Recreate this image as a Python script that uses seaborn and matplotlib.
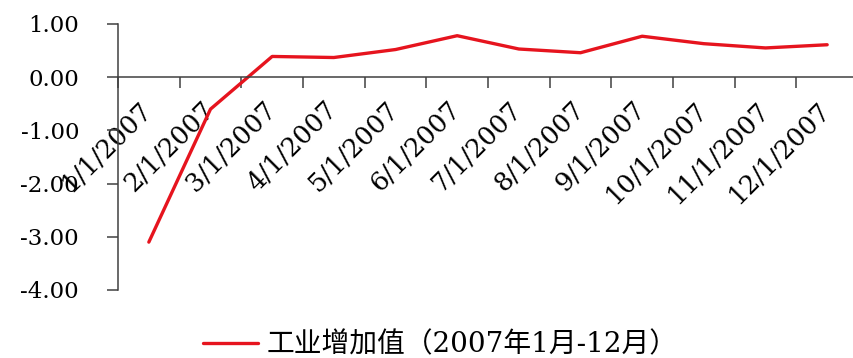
import numpy as np
import pandas as pd
import matplotlib
matplotlib.use("Agg")
import matplotlib.pyplot as plt
import matplotlib.transforms as mtransforms
import seaborn as sns

dates = ["1/1/2007", "2/1/2007", "3/1/2007", "4/1/2007", "5/1/2007", "6/1/2007",
         "7/1/2007", "8/1/2007", "9/1/2007", "10/1/2007", "11/1/2007", "12/1/2007"]
values = [-3.10, -0.60, 0.39, 0.37, 0.52, 0.78, 0.53, 0.46, 0.77, 0.63, 0.55, 0.61]
series_name = "工业增加值（2007年1月-12月）"
y_ticks = [1.0, 0.0, -1.0, -2.0, -3.0, -4.0]

sns.set_theme(style="white")
plt.rcParams["font.family"] = ["DejaVu Serif", "Noto Sans CJK SC"]
plt.rcParams["axes.unicode_minus"] = False
plt.rcParams["text.color"] = "black"
plt.rcParams["xtick.labelcolor"] = "black"
plt.rcParams["ytick.labelcolor"] = "black"

df = pd.DataFrame({"idx": np.arange(len(dates)), "date": dates, "value": values, "series": series_name})

fig = plt.figure(figsize=(8.54, 3.58), dpi=100)
ax = fig.add_axes([118 / 854, 1 - 290 / 358, (858 - 118) / 854, (290 - 24) / 358])

sns.lineplot(data=df, x="idx", y="value", hue="series", palette=["#E6141E"],
             linewidth=2.4, ax=ax, legend=True)

ax.spines["bottom"].set_position(("data", 0))
for s in ["top", "right"]:
    ax.spines[s].set_visible(False)
for s in ["bottom", "left"]:
    ax.spines[s].set_color("#404040")
    ax.spines[s].set_linewidth(1.1)

ax.set_xlim(-0.5, len(dates) - 0.5)
ax.set_ylim(-4, 1)
ax.set_yticks(y_ticks)
ax.set_yticklabels([f"{v:.2f}" for v in y_ticks], fontsize=16.5, color="black")

ax.set_xticks(np.arange(-0.5, len(dates), 1.0))
ax.set_xticklabels([])
ax.set_xticks(np.arange(len(dates)), minor=True)
ax.set_xticklabels(dates, minor=True, rotation=45, ha="right", va="top",
                   rotation_mode="default", fontsize=18.5, color="black")
ax.tick_params(axis="x", which="major", direction="out", length=8, width=1.1,
               color="#404040", bottom=True)
ax.tick_params(axis="x", which="minor", length=0, pad=14, bottom=True)
ax.tick_params(axis="y", direction="out", length=8, width=1.1, color="#404040",
               pad=20, left=True)

shift = mtransforms.ScaledTranslation(8 / 100, 0, fig.dpi_scale_trans)
for lab in ax.get_xticklabels(minor=True):
    lab.set_transform(lab.get_transform() + shift)

ax.set_xlabel("")
ax.set_ylabel("")

handles, labels = ax.get_legend_handles_labels()
ax.get_legend().remove()
leg = fig.legend(handles, labels, loc="center", bbox_to_anchor=(440 / 854, 1 - 345 / 358),
                 frameon=False, fontsize=20, handlelength=2.0, handletextpad=0.3)
for t in leg.get_texts():
    t.set_color("black")

fig.savefig("out.png", dpi=100)
